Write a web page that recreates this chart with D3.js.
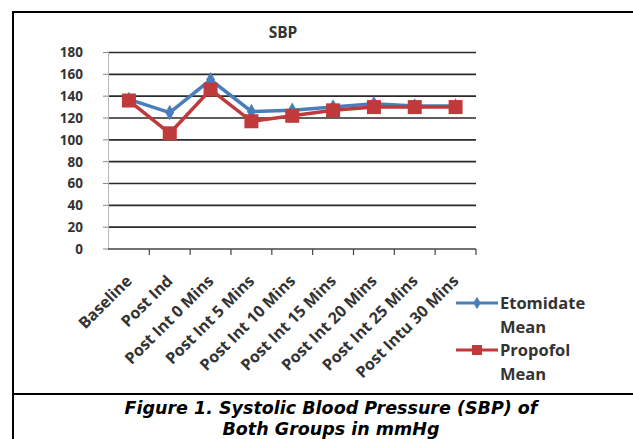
<!DOCTYPE html>
<html>
<head>
<meta charset="utf-8">
<script src="https://cdn.jsdelivr.net/npm/d3@7"></script>
<style>
  body { margin: 0; background: #fff; }
  svg { display: block; }
</style>
</head>
<body>
<div id="chart"></div>
<script>
var categories = ["Baseline", "Post Ind", "Post Int 0 Mins", "Post Int  5 Mins", "Post Int 10 Mins",
    "Post Int 15 Mins", "Post Int 20 Mins", "Post Int 25 Mins", "Post Intu 30 Mins"];
var etomidateMean = [137, 125, 155, 126, 127, 130, 133, 131, 131];
var propofolMean = [136, 106, 146, 117, 122, 127, 130, 130, 130];
var yTicks = [0, 20, 40, 60, 80, 100, 120, 140, 160, 180];

var width = 633, height = 439;
var blue = "#4a7ebb", red = "#c0393b";
var svg = d3.select("#chart").append("svg")
    .attr("width", width)
    .attr("height", height);

// outer frame
svg.append("line").attr("x1", 13).attr("x2", width).attr("y1", 12).attr("y2", 12)
    .attr("stroke", "#000").attr("stroke-width", 2);
svg.append("line").attr("x1", 13).attr("x2", 13).attr("y1", 11).attr("y2", height)
    .attr("stroke", "#000").attr("stroke-width", 2);
svg.append("line").attr("x1", 13).attr("x2", width).attr("y1", 394).attr("y2", 394)
    .attr("stroke", "#000").attr("stroke-width", 2);

var x = d3.scaleBand().domain(categories).range([108.5, 476]);
var y = d3.scaleLinear().domain([0, 180]).range([249, 52.5]);

// gridlines
svg.append("g").selectAll("line").data(yTicks.slice(1)).join("line")
    .attr("x1", 108).attr("x2", 476)
    .attr("y1", function(d){ return y(d); })
    .attr("y2", function(d){ return y(d); })
    .attr("stroke", "#2a2a2a").attr("stroke-width", 1.6);

// y axis
svg.append("line").attr("x1", 108.5).attr("x2", 108.5).attr("y1", 52).attr("y2", 249)
    .attr("stroke", "#b8b8b8").attr("stroke-width", 1);
svg.append("g").selectAll("line").data(yTicks).join("line")
    .attr("x1", 103).attr("x2", 108)
    .attr("y1", function(d){ return y(d); })
    .attr("y2", function(d){ return y(d); })
    .attr("stroke", "#888");
svg.append("g").selectAll("text").data(yTicks).join("text")
    .attr("x", 83).attr("y", function(d){ return y(d); })
    .attr("dy", "0.36em")
    .attr("text-anchor", "end")
    .attr("font-family", "Open Sans, sans-serif")
    .attr("font-weight", "bold")
    .attr("font-size", "13.5px")
    .attr("fill", "#333")
    .text(function(d){ return d; });

// x axis
svg.append("line").attr("x1", 108).attr("x2", 476).attr("y1", 249).attr("y2", 249)
    .attr("stroke", "#444").attr("stroke-width", 1.6);
var bounds = categories.map(function(c){ return x(c); }).concat([476]);
svg.append("g").selectAll("line").data(bounds.slice(1)).join("line")
    .attr("x1", function(d){ return d; }).attr("x2", function(d){ return d; })
    .attr("y1", 249).attr("y2", 255)
    .attr("stroke", "#444").attr("stroke-width", 1.2);
svg.append("g").selectAll("text").data(categories).join("text")
    .attr("transform", function(d){
        return "translate(" + (x(d) + x.bandwidth() / 2 + 4) + ",282) rotate(-45)";
    })
    .attr("text-anchor", "end")
    .attr("font-family", "Open Sans, sans-serif")
    .attr("font-weight", "bold")
    .attr("font-size", "16px")
    .attr("fill", "#333")
    .text(function(d){ return d; });

// title
svg.append("text").attr("x", 283).attr("y", 38)
    .attr("text-anchor", "middle")
    .attr("font-family", "Open Sans, sans-serif")
    .attr("font-weight", "bold")
    .attr("font-size", "15.5px")
    .attr("fill", "#333")
    .text("SBP");

var line = d3.line()
    .x(function(d, i){ return x(categories[i]) + x.bandwidth() / 2; })
    .y(function(d){ return y(d); });

svg.append("path").datum(etomidateMean)
    .attr("d", line).attr("fill", "none")
    .attr("stroke", blue).attr("stroke-width", 3.5);
svg.append("g").selectAll("path").data(etomidateMean).join("path")
    .attr("d", d3.symbol(d3.symbolDiamond, 70))
    .attr("transform", function(d, i){
        return "translate(" + (x(categories[i]) + x.bandwidth() / 2) + "," + y(d) + ")";
    })
    .attr("fill", blue);

svg.append("path").datum(propofolMean)
    .attr("d", line).attr("fill", "none")
    .attr("stroke", red).attr("stroke-width", 3.5);
svg.append("g").selectAll("rect").data(propofolMean).join("rect")
    .attr("x", function(d, i){ return x(categories[i]) + x.bandwidth() / 2 - 7; })
    .attr("y", function(d){ return y(d) - 7; })
    .attr("width", 14).attr("height", 14)
    .attr("fill", red);

// legend
var legend = [
    {name: ["Etomidate", "Mean"], color: blue, y: 303},
    {name: ["Propofol", "Mean"], color: red, y: 350}
];
legend.forEach(function(l, k){
    svg.append("line").attr("x1", 456).attr("x2", 498).attr("y1", l.y).attr("y2", l.y)
        .attr("stroke", l.color).attr("stroke-width", 3);
    if (k === 0) {
        svg.append("path").attr("d", d3.symbol(d3.symbolDiamond, 45))
            .attr("transform", "translate(477," + l.y + ")").attr("fill", l.color);
    } else {
        svg.append("rect").attr("x", 472).attr("y", l.y - 5).attr("width", 10).attr("height", 10)
            .attr("fill", l.color);
    }
    l.name.forEach(function(t, j){
        svg.append("text").attr("x", 500).attr("y", l.y + j * 24)
            .attr("dy", "0.36em")
            .attr("font-family", "Open Sans, sans-serif")
            .attr("font-weight", "bold")
            .attr("font-size", "16.5px")
            .attr("fill", "#333")
            .text(t);
    });
});

// caption
var caption = ["Figure 1. Systolic Blood Pressure (SBP) of", "Both Groups in mmHg"];
svg.append("g").selectAll("text").data(caption).join("text")
    .attr("x", 331).attr("y", function(d, i){ return 414 + i * 21; })
    .attr("text-anchor", "middle")
    .attr("font-family", "DejaVu Sans, Verdana, sans-serif")
    .attr("font-weight", "bold")
    .attr("font-style", "italic")
    .attr("font-size", "17.5px")
    .attr("fill", "#000")
    .text(function(d){ return d; });
</script>
</body>
</html>
